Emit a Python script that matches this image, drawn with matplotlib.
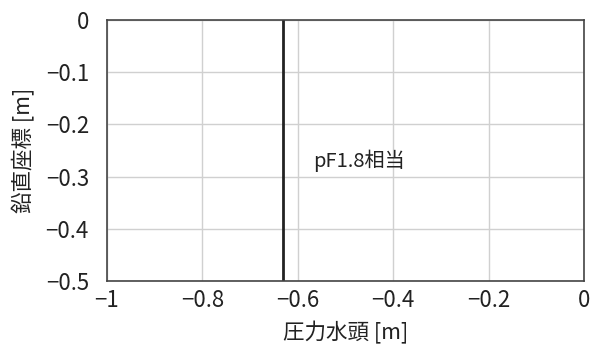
import matplotlib.pyplot as plt

plt.rcParams['font.family'] = ['Noto Sans CJK JP', 'DejaVu Sans']

# data
pf_head = -0.631  # pF1.8 -> 63.1 cm
depth = [0, -0.5]
label = 'pF1.8相当'
x_ticks = [-1, -0.8, -0.6, -0.4, -0.2, 0]
x_labels = ['−1', '−0.8', '−0.6', '−0.4', '−0.2', '0']
y_ticks = [0, -0.1, -0.2, -0.3, -0.4, -0.5]
y_labels = ['0', '−0.1', '−0.2', '−0.3', '−0.4', '−0.5']

fig = plt.figure(figsize=(5.92, 3.47), dpi=100)
ax = fig.add_axes([107/592, 1 - 281/347, 477/592, 261/347])

ax.plot([pf_head, pf_head], depth, color='#222222', lw=2)
ax.text(-0.568, -0.27, label, fontsize=14.5, va='center', ha='left', color='#222222')

ax.set_xlim(-1, 0)
ax.set_ylim(-0.5, 0)
ax.set_xticks(x_ticks)
ax.set_xticklabels(x_labels)
ax.set_yticks(y_ticks)
ax.set_yticklabels(y_labels)
ax.tick_params(length=0, labelsize=16, colors='#222222')
ax.tick_params(axis='y', pad=13)
ax.tick_params(axis='x', pad=6)
ax.grid(color='#d0d0d0', lw=1)
ax.set_axisbelow(True)
for s in ax.spines.values():
    s.set_color('#444444')
    s.set_linewidth(1.2)

ax.set_xlabel('圧力水頭 [m]', fontsize=15.5, color='#222222')
ax.set_ylabel('鉛直座標 [m]', fontsize=15.5, color='#222222')
ax.xaxis.set_label_coords(0.5, -(333-281)/261)
ax.yaxis.set_label_coords(-(107-23)/477, 0.5)
ax.xaxis.label.set_va('center')
ax.yaxis.label.set_va('center')

fig.savefig('out.png', dpi=100)
